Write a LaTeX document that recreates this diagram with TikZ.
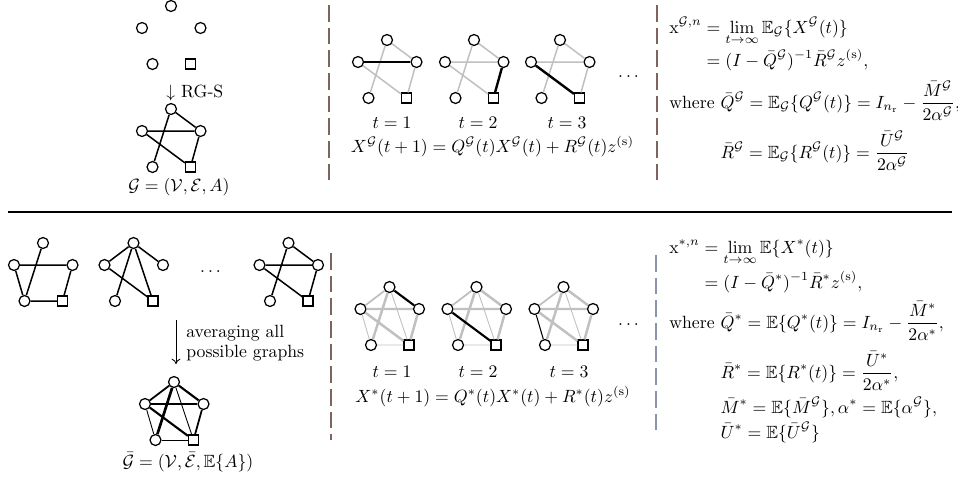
\documentclass[tikz,border=0pt]{standalone}
\usepackage{amsmath,amssymb}
\usetikzlibrary{arrows.meta}
\definecolor{lgray}{RGB}{192,192,192}
\definecolor{dashA}{RGB}{125,100,95}
\definecolor{dashB}{RGB}{140,148,172}
\newcommand{\calG}{\mathcal{G}}
\newcommand\mkpent[3]{%
  \node[vtx] (#1T) at (#2,#3) {};
  \node[vtx] (#1L) at ({#2-29},{#3+22}) {};
  \node[vtx] (#1R) at ({#2+29.5},{#3+22}) {};
  \node[vtx] (#1A) at ({#2-18.5},{#3+58}) {};
  \node[sqr] (#1B) at ({#2+19.5},{#3+58}) {};
}
\begin{document}
\begin{tikzpicture}[x=0.565pt,y=-0.565pt,
  vtx/.style={circle,draw,fill=white,minimum size=6.2pt,inner sep=0pt,line width=0.7pt},
  sqr/.style={rectangle,draw,fill=white,minimum size=5.6pt,inner sep=0pt,line width=0.7pt},
  edg/.style={line width=0.85pt},
  gedg/.style={line width=0.85pt,lgray},
  act/.style={line width=1.35pt},
  wa/.style={line width=0.5pt},
  wb/.style={line width=1.0pt},
  wc/.style={line width=1.4pt},
  sepA/.style={line width=0.6pt,dashA,dash pattern=on 9.5pt off 3.3pt},
  sepB/.style={line width=0.6pt,dashB,dash pattern=on 9.5pt off 3.3pt},
  lbl/.style={inner sep=0pt,anchor=base},
  eqn/.style={inner sep=0pt,anchor=base west}]
\useasboundingbox (0,0) rectangle (958,483);

% ---------- top left ----------
\mkpent{e}{171}{6}
\node[eqn] (rgs) at (166,97) {$\downarrow$ RG-S};
\mkpent{g}{171}{109}
\draw[edg] (gT)--(gR) (gT)--(gA) (gL)--(gR) (gL)--(gB) (gR)--(gB);
\node[lbl] (glbl) at (179,191) {$\calG=(\mathcal{V},\mathcal{E},A)$};

% separators top
\draw[sepA] (329,5)--(329,185);
\draw[sepA] (657,5)--(657,185);

% ---------- top middle ----------
\mkpent{a}{387}{40}
\draw[gedg] (aT)--(aR) (aT)--(aA) (aL)--(aB) (aR)--(aB);
\draw[act] (aL)--(aR);
\mkpent{b}{474}{40}
\draw[gedg] (bT)--(bR) (bT)--(bA) (bL)--(bR) (bL)--(bB);
\draw[act] (bR)--(bB);
\mkpent{c}{560}{40}
\draw[gedg] (cT)--(cR) (cT)--(cA) (cL)--(cR) (cR)--(cB);
\draw[act] (cL)--(cB);
\node[lbl] (t1) at (392,128) {$t=1$};
\node[lbl] (t2) at (478,128) {$t=2$};
\node[lbl] (t3) at (567,128) {$t=3$};
\node[inner sep=0pt] (dotsA) at (630,77) {$\dots$};
\node[lbl] (eqA) at (492.5,152) {$X^{\calG}(t+1)=Q^{\calG}(t)X^{\calG}(t)+R^{\calG}(t)z^{(\mathrm{s})}$};

% ---------- top right ----------
\node[eqn] (r1) at (669,33) {$\displaystyle \mathrm{x}^{\calG,n} = \lim_{t\to\infty}\mathbb{E}_{\calG}\{X^{\calG}(t)\}$};
\node[eqn] (r2) at (669,66) {$\displaystyle \phantom{\mathrm{x}^{\calG,n}} = (I-\bar{Q}^{\calG})^{-1}\bar{R}^{\calG}z^{(\mathrm{s})},$};
\node[eqn] (r3) at (669,108) {where\ $\displaystyle \bar{Q}^{\calG} = \mathbb{E}_{\calG}\{Q^{\calG}(t)\} = I_{n_{\mathrm{r}}} - \frac{\bar{M}^{\calG}}{2\alpha^{\calG}},$};
\node[eqn] (r4) at (669,158) {\phantom{where}\ $\displaystyle \bar{R}^{\calG} = \mathbb{E}_{\calG}\{R^{\calG}(t)\} = \frac{\bar{U}^{\calG}}{2\alpha^{\calG}}$};

% horizontal separator
\draw[line width=0.6pt] (8,212)--(952,212);

% ---------- bottom left ----------
\mkpent{p}{43}{243}
\draw[edg] (pT)--(pA) (pL)--(pR) (pL)--(pA) (pR)--(pB) (pA)--(pB);
\mkpent{q}{133.5}{243}
\draw[edg] (qT)--(qL) (qT)--(qR) (qT)--(qA) (qT)--(qB) (qL)--(qB);
\node[inner sep=0pt] (dotsB) at (212,272) {$\dots$};
\mkpent{r}{288.5}{243}
\draw[edg] (rT)--(rR) (rT)--(rA) (rL)--(rR) (rL)--(rB) (rR)--(rB);

\coordinate (arrS) at (176,320);
\coordinate (arrE) at (176,364);
\draw[line width=0.5pt,-{To[length=3pt,width=5pt]}] (arrS)--(arrE);
\node[eqn] (avg1) at (186,337) {averaging all};
\node[eqn] (avg2) at (186,357) {possible graphs};

\mkpent{m}{174}{382}
\draw[wb] (mT)--(mL);
\draw[line width=1.2pt] (mT)--(mR);
\draw[line width=1.5pt] (mT)--(mA);
\draw[wa] (mT)--(mB);
\draw[line width=1.2pt] (mL)--(mR);
\draw[line width=1.2pt] (mL)--(mB);
\draw[wa] (mL)--(mA);
\draw[wb] (mR)--(mB);
\draw[wa] (mA)--(mB);
\node[lbl] (mlbl) at (188,467) {$\bar{\calG}=(\mathcal{V},\bar{\mathcal{E}},\mathbb{E}\{A\})$};

% separators bottom
\draw[sepA] (331,253)--(331,440);
\draw[sepB] (656,255)--(656,432);

% ---------- bottom middle ----------
\mkpent{s}{389.5}{287}
\draw[lgray,wb] (sT)--(sL);
\draw[lgray,wc] (sT)--(sA) (sL)--(sR) (sL)--(sB) (sR)--(sB);
\draw[lgray,wa] (sT)--(sB) (sL)--(sA) (sA)--(sB);
\draw[line width=1.2pt] (sT)--(sR);
\mkpent{u}{476.5}{287}
\draw[lgray,wb] (uT)--(uL);
\draw[lgray,wc] (uT)--(uR) (uT)--(uA) (uL)--(uR) (uR)--(uB);
\draw[lgray,wa] (uT)--(uB) (uL)--(uA) (uA)--(uB);
\draw[line width=1.2pt] (uL)--(uB);
\mkpent{w}{563.5}{287}
\draw[lgray,wb] (wT)--(wL);
\draw[lgray,wc] (wT)--(wR) (wT)--(wA) (wL)--(wR) (wL)--(wB) (wR)--(wB);
\draw[lgray,wa] (wT)--(wB) (wA)--(wB);
\draw[line width=0.6pt] (wL)--(wA);
\node[lbl] (s1) at (392,377) {$t=1$};
\node[lbl] (s2) at (478,377) {$t=2$};
\node[lbl] (s3) at (569,377) {$t=3$};
\node[inner sep=0pt] (dotsC) at (630,325) {$\dots$};
\node[lbl] (eqB) at (493,402) {$X^{*}(t+1)=Q^{*}(t)X^{*}(t)+R^{*}(t)z^{(\mathrm{s})}$};

% ---------- bottom right ----------
\node[eqn] (b1) at (669,253) {$\displaystyle \mathrm{x}^{*,n} = \lim_{t\to\infty}\mathbb{E}\{X^{*}(t)\}$};
\node[eqn] (b2) at (669,288) {$\displaystyle \phantom{\mathrm{x}^{*,n}} = (I-\bar{Q}^{*})^{-1}\bar{R}^{*}z^{(\mathrm{s})},$};
\node[eqn] (b3) at (669,328) {where\ $\displaystyle \bar{Q}^{*} = \mathbb{E}\{Q^{*}(t)\} = I_{n_{\mathrm{r}}} - \frac{\bar{M}^{*}}{2\alpha^{*}},$};
\node[eqn] (b4) at (669,378) {\phantom{where}\ $\displaystyle \bar{R}^{*} = \mathbb{E}\{R^{*}(t)\} = \frac{\bar{U}^{*}}{2\alpha^{*}},$};
\node[eqn] (b5) at (669,413) {\phantom{where}\ $\displaystyle \bar{M}^{*} = \mathbb{E}\{\bar{M}^{\calG}\}, \alpha^{*} = \mathbb{E}\{\alpha^{\calG}\},$};
\node[eqn] (b6) at (669,438) {\phantom{where}\ $\displaystyle \bar{U}^{*} = \mathbb{E}\{\bar{U}^{\calG}\}$};
\end{tikzpicture}
\end{document}
